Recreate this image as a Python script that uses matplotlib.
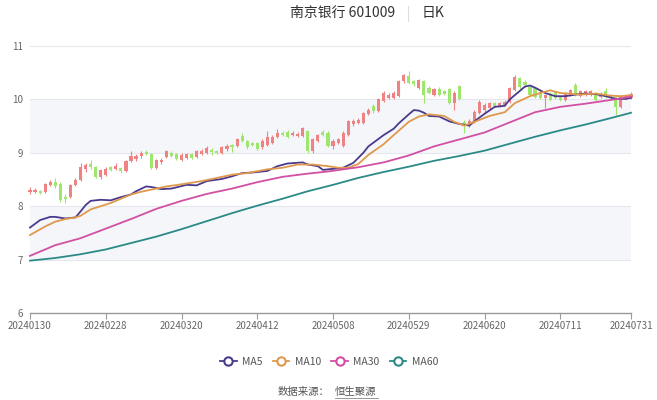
import matplotlib
matplotlib.use("Agg")
import matplotlib.pyplot as plt
from matplotlib.lines import Line2D
import numpy as np

plt.rcParams['font.family'] = ['Noto Sans CJK SC', 'DejaVu Sans']

# ── 数据 ────────────────────────────────────────────────────────────────
TITLE = "南京银行 601009"
PERIOD = "日K"
SOURCE_LABEL = "数据来源："
SOURCE_NAME = "恒生聚源"

TICK_IDX = [0, 15, 30, 45, 60, 75, 90, 105, 119]
TICK_LABELS = ["20240130", "20240228", "20240320", "20240412", "20240508",
               "20240529", "20240620", "20240711", "20240731"]

OPEN = [8.26, 8.27, 8.29, 8.26, 8.40, 8.46, 8.42, 8.18, 8.18, 8.40,
        8.50, 8.69, 8.79, 8.74, 8.54, 8.58, 8.73, 8.70, 8.72, 8.66,
        8.84, 8.88, 8.94, 9.01, 8.97, 8.72, 8.82, 8.93, 9.00, 8.97,
        8.86, 8.91, 8.97, 8.92, 8.97, 8.99, 9.06, 9.03, 9.00, 9.07,
        9.14, 9.12, 9.31, 9.22, 9.18, 9.18, 9.10, 9.15, 9.19, 9.30,
        9.38, 9.39, 9.33, 9.32, 9.32, 9.41, 9.03, 9.22, 9.39, 9.38,
        9.13, 9.19, 9.13, 9.34, 9.53, 9.56, 9.56, 9.72, 9.87, 9.78,
        9.97, 10.03, 10.03, 10.06, 10.34, 10.44, 10.34, 10.22, 10.34, 10.22,
        10.09, 10.20, 10.15, 10.19, 9.94, 10.25, 9.58, 9.52, 9.58, 9.74,
        9.80, 9.83, 9.93, 9.87, 9.90, 9.96, 10.18, 10.40, 10.33, 10.24,
        10.21, 10.14, 10.02, 10.11, 10.14, 10.05, 9.99, 10.08, 10.27, 10.07,
        10.08, 10.09, 10.11, 10.05, 10.16, 10.02, 10.05, 9.86, 10.02, 10.03]
CLOSE = [8.31, 8.31, 8.25, 8.42, 8.45, 8.37, 8.12, 8.13, 8.39, 8.50,
         8.74, 8.77, 8.74, 8.55, 8.67, 8.70, 8.68, 8.76, 8.66, 8.84,
         8.94, 8.94, 8.99, 8.97, 8.72, 8.87, 8.87, 9.03, 8.94, 8.88,
         8.96, 8.97, 8.91, 9.03, 9.03, 9.09, 9.02, 8.99, 9.11, 9.13,
         9.10, 9.26, 9.22, 9.10, 9.14, 9.07, 9.22, 9.30, 9.29, 9.38,
         9.34, 9.30, 9.38, 9.36, 9.47, 9.03, 9.25, 9.34, 9.33, 9.13,
         9.22, 9.25, 9.38, 9.60, 9.60, 9.62, 9.75, 9.81, 9.78, 10.00,
         10.12, 10.09, 10.12, 10.34, 10.45, 10.31, 10.28, 10.37, 10.09, 10.12,
         10.19, 10.09, 10.11, 9.94, 10.12, 10.00, 9.52, 9.60, 9.77, 9.96,
         9.90, 9.93, 9.87, 9.93, 9.96, 10.21, 10.42, 10.24, 10.27, 10.08,
         10.05, 10.02, 10.08, 9.99, 10.02, 9.99, 10.11, 10.18, 10.08, 10.16,
         10.16, 10.16, 9.99, 10.11, 10.05, 10.09, 9.86, 10.07, 10.07, 10.11]
HIGH = [8.36, 8.34, 8.31, 8.44, 8.49, 8.52, 8.45, 8.22, 8.41, 8.53,
        8.81, 8.81, 8.86, 8.76, 8.69, 8.73, 8.76, 8.80, 8.74, 8.86,
        9.03, 8.98, 9.03, 9.05, 8.99, 8.89, 8.90, 9.06, 9.03, 9.00,
        8.99, 9.00, 9.00, 9.05, 9.07, 9.12, 9.09, 9.06, 9.13, 9.16,
        9.17, 9.28, 9.38, 9.24, 9.21, 9.20, 9.25, 9.40, 9.33, 9.44,
        9.41, 9.42, 9.40, 9.39, 9.48, 9.43, 9.27, 9.36, 9.42, 9.40,
        9.26, 9.28, 9.40, 9.62, 9.63, 9.66, 9.77, 9.84, 9.92, 10.02,
        10.15, 10.12, 10.15, 10.36, 10.48, 10.53, 10.37, 10.39, 10.36, 10.25,
        10.22, 10.23, 10.18, 10.21, 10.15, 10.27, 9.62, 9.63, 9.80, 9.99,
        9.94, 9.96, 9.96, 9.95, 9.99, 10.23, 10.46, 10.42, 10.36, 10.26,
        10.23, 10.16, 10.11, 10.13, 10.16, 10.07, 10.13, 10.20, 10.30, 10.18,
        10.18, 10.17, 10.13, 10.13, 10.21, 10.11, 10.07, 10.09, 10.09, 10.13]
LOW = [8.22, 8.24, 8.22, 8.24, 8.37, 8.34, 8.07, 8.06, 8.15, 8.37,
       8.48, 8.64, 8.70, 8.53, 8.51, 8.56, 8.66, 8.67, 8.63, 8.64,
       8.82, 8.85, 8.91, 8.95, 8.70, 8.70, 8.79, 8.90, 8.92, 8.86,
       8.84, 8.89, 8.89, 8.90, 8.95, 8.97, 8.96, 8.97, 8.98, 9.04,
       9.01, 9.10, 9.20, 9.07, 9.12, 9.05, 9.08, 9.13, 9.17, 9.28,
       9.32, 9.28, 9.31, 9.30, 9.30, 9.00, 8.99, 9.20, 9.31, 9.10,
       9.07, 9.16, 9.11, 9.32, 9.50, 9.54, 9.54, 9.70, 9.75, 9.76,
       9.95, 10.00, 10.01, 10.04, 10.31, 10.29, 10.25, 10.20, 9.94, 10.10,
       10.07, 10.07, 10.09, 9.92, 9.81, 9.98, 9.37, 9.48, 9.55, 9.72,
       9.77, 9.80, 9.85, 9.85, 9.88, 9.94, 10.15, 10.20, 10.24, 10.06,
       10.03, 10.00, 9.83, 9.97, 10.00, 9.97, 9.97, 10.06, 10.06, 10.05,
       10.06, 10.07, 9.97, 10.03, 10.03, 10.00, 9.71, 9.84, 10.00, 10.01]

# 均线读数（交易日序号, 数值）
MA5_IDX = [0, 2, 4, 5, 7, 9, 10, 11, 12, 14, 16, 18, 20, 21, 23, 24, 26, 28,
           31, 33, 35, 38, 40, 42, 44, 47, 49, 51, 54, 55, 57, 58, 60, 62, 64,
           66, 67, 68, 70, 72, 73, 75, 76, 77, 78, 79, 81, 83, 85, 87, 88, 90,
           92, 94, 95, 97, 98, 99, 100, 102, 104, 106, 108, 110, 112, 114,
           116, 118, 119]
MA5_VAL = [7.60, 7.74, 7.80, 7.80, 7.77, 7.79, 7.90, 8.02, 8.10, 8.12, 8.11,
           8.17, 8.22, 8.28, 8.37, 8.36, 8.32, 8.33, 8.40, 8.39, 8.47, 8.51,
           8.56, 8.62, 8.63, 8.66, 8.75, 8.80, 8.82, 8.78, 8.75, 8.68, 8.70,
           8.72, 8.81, 9.00, 9.12, 9.19, 9.33, 9.45, 9.55, 9.72, 9.80, 9.79,
           9.75, 9.69, 9.68, 9.59, 9.54, 9.51, 9.59, 9.73, 9.86, 9.88, 10.00,
           10.16, 10.24, 10.26, 10.22, 10.12, 10.06, 10.06, 10.09, 10.11,
           10.10, 10.06, 10.01, 10.01, 10.03]
MA10_IDX = [0, 3, 5, 7, 9, 10, 12, 14, 16, 18, 20, 22, 24, 27, 30, 34, 37, 40,
            43, 47, 50, 53, 56, 59, 61, 63, 65, 67, 70, 72, 75, 77, 79, 82, 84,
            86, 88, 91, 94, 96, 99, 101, 103, 105, 109, 112, 115, 117, 119]
MA10_VAL = [7.46, 7.62, 7.71, 7.76, 7.79, 7.82, 7.94, 8.00, 8.06, 8.14, 8.22,
            8.27, 8.31, 8.37, 8.41, 8.47, 8.53, 8.59, 8.62, 8.69, 8.72, 8.78,
            8.78, 8.75, 8.72, 8.72, 8.79, 8.96, 9.16, 9.33, 9.58, 9.68, 9.72,
            9.69, 9.58, 9.51, 9.58, 9.69, 9.76, 9.93, 10.06, 10.12, 10.17,
            10.12, 10.09, 10.11, 10.07, 10.06, 10.08]
MA30_IDX = [0, 5, 10, 15, 20, 25, 30, 35, 40, 45, 50, 55, 59, 65, 70, 75, 80,
            85, 90, 95, 100, 105, 110, 115, 119]
MA30_VAL = [7.07, 7.27, 7.40, 7.58, 7.76, 7.95, 8.10, 8.23, 8.33, 8.45, 8.55,
            8.61, 8.65, 8.73, 8.82, 8.95, 9.12, 9.25, 9.38, 9.57, 9.76, 9.86,
            9.92, 9.99, 10.05]
MA60_IDX = [0, 5, 10, 15, 20, 25, 30, 35, 40, 45, 50, 55, 60, 65, 70, 75, 80,
            85, 90, 95, 100, 105, 110, 115, 119]
MA60_VAL = [6.98, 7.03, 7.10, 7.19, 7.31, 7.43, 7.57, 7.72, 7.87, 8.01, 8.14,
            8.28, 8.40, 8.53, 8.64, 8.74, 8.85, 8.94, 9.04, 9.17, 9.30, 9.42,
            9.53, 9.65, 9.75]

MA_NAMES = ["MA5", "MA10", "MA30", "MA60"]
MA_COLORS = ["#4a3a8e", "#e0984c", "#d24fa3", "#2b8a88"]
# ────────────────────────────────────────────────────────────────────────

UP_COLOR = "#ef8282"
DOWN_COLOR = "#9fe66c"
TEXT_COLOR = "#666666"


def desenhar_velas(ax):
    o = np.array(OPEN)
    c = np.array(CLOSE)
    h = np.array(HIGH)
    l = np.array(LOW)
    x = np.arange(len(o))
    cores = np.where(c >= o, UP_COLOR, DOWN_COLOR)
    ax.vlines(x, l, h, colors=cores, linewidth=0.8, zorder=3, clip_on=False)
    base = np.minimum(o, c)
    altura = np.maximum(np.abs(c - o), 0.012)
    ax.bar(x, altura, bottom=base, width=0.62, color=cores, linewidth=0,
           zorder=3, clip_on=False)


def desenhar_medias(ax):
    series = [(MA5_IDX, MA5_VAL), (MA10_IDX, MA10_VAL),
              (MA30_IDX, MA30_VAL), (MA60_IDX, MA60_VAL)]
    for (idx, val), cor in zip(series, MA_COLORS):
        ax.plot(idx, val, color=cor, linewidth=1.3, zorder=4,
                solid_joinstyle='round', clip_on=False)


W, H = 657, 400
fig = plt.figure(figsize=(W / 100, H / 100), dpi=100)
fig.patch.set_facecolor("white")
ax = fig.add_axes([30 / W, 1 - 313 / H, (631 - 30) / W, (313 - 46) / H])

ax.set_xlim(0, 119)
ax.set_ylim(6, 11)

for y0 in (7, 9):
    ax.axhspan(y0, y0 + 1, color="#f4f6fa", zorder=0, linewidth=0)
for y in range(7, 12):
    ax.axhline(y, color="#e4e8ee", linewidth=0.8, zorder=1)

desenhar_velas(ax)
desenhar_medias(ax)

for s in ("top", "right", "left"):
    ax.spines[s].set_visible(False)
ax.spines["bottom"].set_color("#9a9a9a")
ax.spines["bottom"].set_linewidth(1.0)

ax.set_yticks(range(6, 12))
ax.set_yticklabels([str(v) for v in range(6, 12)])
ax.tick_params(axis="y", length=0, pad=5, labelsize=7, labelcolor=TEXT_COLOR)
ax.set_xticks(TICK_IDX)
ax.set_xticklabels(TICK_LABELS)
ax.tick_params(axis="x", length=4, width=0.8, color="#9a9a9a", pad=1.5,
               labelsize=7, labelcolor=TEXT_COLOR)

# título
fig.text(343 / W, 1 - 13 / H, TITLE, ha="center", va="center",
         fontsize=10, color="#333333")
fig.add_artist(Line2D([408 / W, 408 / W], [1 - 6 / H, 1 - 21 / H],
                      color="#dddddd", linewidth=0.8))
fig.text(422 / W, 1 - 13 / H, PERIOD, ha="left", va="center",
         fontsize=10, color="#333333")

# legenda
handles = [Line2D([], [], color=cor, linewidth=1.3, marker="o", markersize=6,
                  markerfacecolor="white", markeredgewidth=1.5)
           for cor in MA_COLORS]
fig.legend(handles, MA_NAMES, loc="center", ncol=4, frameon=False,
           bbox_to_anchor=(329 / W, 1 - 362 / H), fontsize=7.5,
           handlelength=1.6, handletextpad=0.5, columnspacing=1.0,
           labelcolor="#555555")

# fonte dos dados
fig.text(278 / W, 1 - 392 / H, SOURCE_LABEL, ha="left", va="center",
         fontsize=7.5, color="#555555")
fig.text(335 / W, 1 - 392 / H, SOURCE_NAME, ha="left", va="center",
         fontsize=7.5, color="#555555")
fig.add_artist(Line2D([335 / W, 378 / W], [1 - 397.5 / H, 1 - 397.5 / H],
                      color="#888888", linewidth=0.6))

fig.savefig("out.png", dpi=100, facecolor="white")
